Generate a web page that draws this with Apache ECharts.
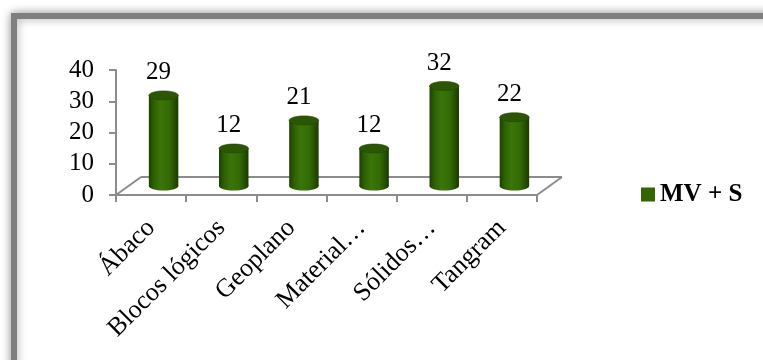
<!DOCTYPE html>
<html>
<head>
<meta charset="utf-8">
<script src="https://cdn.jsdelivr.net/npm/echarts@6/dist/echarts.min.js"></script>
<style>
  html, body { margin: 0; padding: 0; background: #fff; }
  #chart { width: 763px; height: 360px; }
</style>
</head>
<body>
<div id="chart"></div>
<script>
// Data
const categories = ['Ábaco', 'Blocos lógicos', 'Geoplano', 'Material…', 'Sólidos…', 'Tangram'];
const seriesName = 'MV + S';
const values = [29, 12, 21, 12, 32, 22];
const yTicks = [0, 10, 20, 30, 40];

// Look
const FONT = '"Liberation Serif", "Times New Roman", serif';
const FONT_SIZE = 25;
const AXIS_GRAY = '#8c8c8c';
const GREEN = '#336600';
const DEPTH_X = 25;   // floor depth, horizontal shift of the back edge
const DEPTH_Y = -18;  // floor depth, vertical shift of the back edge

// Floor of the 3D plot: back edge and the two side edges
function renderFloor(params, api) {
  const bw = api.size([1, 0])[0];
  const p0 = api.coord([0, 0]);
  const left = p0[0] - bw / 2;
  const right = p0[0] + bw * (categories.length - 0.5);
  const y = p0[1];
  const st = { stroke: AXIS_GRAY, lineWidth: 2 };
  return {
    type: 'group',
    children: [
      { type: 'line', shape: { x1: left + DEPTH_X, y1: y + DEPTH_Y, x2: right + DEPTH_X, y2: y + DEPTH_Y }, style: st },
      { type: 'line', shape: { x1: left, y1: y, x2: left + DEPTH_X, y2: y + DEPTH_Y }, style: st },
      { type: 'line', shape: { x1: right, y1: y, x2: right + DEPTH_X, y2: y + DEPTH_Y }, style: st }
    ]
  };
}

// Cylinder standing in the middle of the floor depth, with its value above it
function renderCylinder(params, api) {
  const i = api.value(0);
  const v = api.value(1);
  const base = api.coord([i, 0]);
  const top = api.coord([i, v]);
  const bw = api.size([1, 0])[0];
  const w = bw * 0.42;
  const cx = base[0] + DEPTH_X / 2;
  const yBottom = base[1] + DEPTH_Y / 2;
  const yTop = top[1] + DEPTH_Y / 2;
  const rx = w / 2;
  const ry = 4.5;
  const bodyFill = new echarts.graphic.LinearGradient(0, 0, 1, 0, [
    { offset: 0, color: '#1c4000' },
    { offset: 0.18, color: '#2f6203' },
    { offset: 0.4, color: '#3b7509' },
    { offset: 0.7, color: '#336a04' },
    { offset: 1, color: '#1a3a00' }
  ]);
  return {
    type: 'group',
    children: [
      { type: 'ellipse', shape: { cx: cx, cy: yBottom, rx: rx, ry: ry }, style: { fill: bodyFill } },
      { type: 'rect', shape: { x: cx - rx, y: yTop, width: w, height: yBottom - yTop }, style: { fill: bodyFill } },
      { type: 'ellipse', shape: { cx: cx, cy: yTop, rx: rx, ry: ry }, style: { fill: '#2b5604', stroke: '#244a02', lineWidth: 0.6 } },
      {
        type: 'text',
        style: {
          text: String(v), x: cx - 5, y: yTop - 23,
          align: 'center', verticalAlign: 'middle',
          font: FONT_SIZE + 'px ' + FONT, fill: '#000'
        }
      }
    ]
  };
}

const chart = echarts.init(document.getElementById('chart'), null, { renderer: 'canvas' });

chart.setOption({
  animation: false,
  backgroundColor: '#fff',
  graphic: [
    {
      type: 'rect', z: -100,
      shape: { x: 14, y: 16, width: 800, height: 400 },
      style: { fill: '#fff', stroke: '#7f7f7f', lineWidth: 6, shadowBlur: 10, shadowColor: 'rgba(0,0,0,0.35)' }
    }
  ],
  grid: { left: 116, right: 226, top: 70, bottom: 165, containLabel: false },
  legend: {
    left: 636, top: 177,
    itemWidth: 14, itemHeight: 14, itemGap: 10,
    data: [{ name: seriesName, icon: 'rect' }],
    textStyle: { fontFamily: FONT, fontSize: 25, fontWeight: 'bold', color: '#000', padding: [0, 0, 0, 0] }
  },
  xAxis: {
    type: 'category',
    data: categories,
    boundaryGap: true,
    axisLine: { show: true, lineStyle: { color: AXIS_GRAY, width: 2 } },
    axisTick: { show: true, length: 7, lineStyle: { color: AXIS_GRAY, width: 2 } },
    axisLabel: { rotate: 45, margin: 29, interval: 0, fontFamily: FONT, fontSize: 26, color: '#000' },
    splitLine: { show: false }
  },
  yAxis: {
    type: 'value',
    min: yTicks[0],
    max: yTicks[yTicks.length - 1],
    interval: yTicks[1] - yTicks[0],
    axisLine: { show: true, lineStyle: { color: AXIS_GRAY, width: 2 } },
    axisTick: { show: true, length: 7, lineStyle: { color: AXIS_GRAY, width: 2 } },
    axisLabel: { margin: 22, fontFamily: FONT, fontSize: FONT_SIZE, color: '#000' },
    splitLine: { show: false }
  },
  series: [
    {
      type: 'custom',
      name: 'floor',
      silent: true,
      z: 1,
      renderItem: renderFloor,
      data: [[0, 0]]
    },
    {
      type: 'custom',
      name: seriesName,
      z: 2,
      itemStyle: { color: GREEN },
      renderItem: renderCylinder,
      data: values.map((v, i) => [i, v])
    }
  ]
});
</script>
</body>
</html>
